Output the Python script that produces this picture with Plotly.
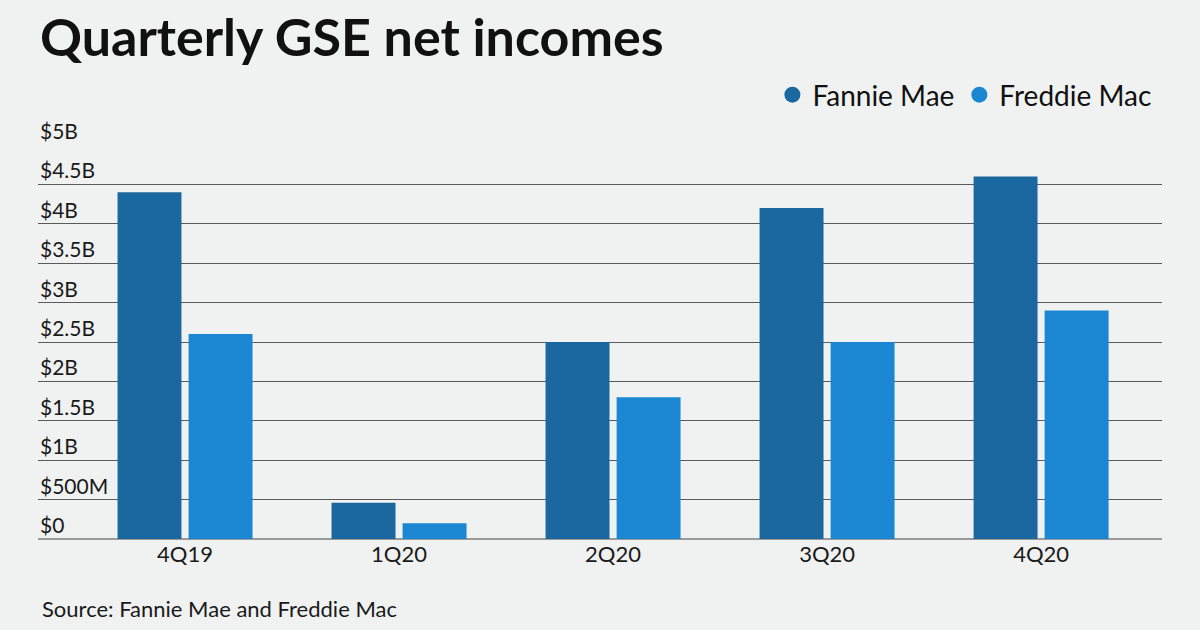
import plotly.graph_objects as go

quarters = ["4Q19", "1Q20", "2Q20", "3Q20", "4Q20"]
fannie_mae = [4.4, 0.46, 2.5, 4.2, 4.6]      # $ billions
freddie_mac = [2.6, 0.2, 1.8, 2.5, 2.9]      # $ billions
tick_vals = [0, 0.5, 1, 1.5, 2, 2.5, 3, 3.5, 4, 4.5, 5]
tick_text = ["$0", "$500M", "$1B", "$1.5B", "$2B", "$2.5B", "$3B", "$3.5B", "$4B", "$4.5B", "$5B"]

FANNIE = "#1b68a0"
FREDDIE = "#1b87d2"
BG = "#f0f1f1"
FONT = "Lato"

fig = go.Figure()
fig.add_trace(go.Bar(x=quarters, y=fannie_mae, name="Fannie Mae", marker_color=FANNIE,
                     marker_line_width=0, showlegend=False))
fig.add_trace(go.Bar(x=quarters, y=freddie_mac, name="Freddie Mac", marker_color=FREDDIE,
                     marker_line_width=0, showlegend=False))
# legend entries with circle markers
fig.add_trace(go.Scatter(x=[None], y=[None], mode="markers", name="Fannie Mae",
                         marker=dict(color=FANNIE, size=19, symbol="circle")))
fig.add_trace(go.Scatter(x=[None], y=[None], mode="markers", name="Freddie Mac",
                         marker=dict(color=FREDDIE, size=19, symbol="circle")))

annotations = []
for v, t in zip(tick_vals, tick_text):
    annotations.append(dict(x=0, xref="paper", xanchor="left", y=v, yref="y", yanchor="bottom",
                            text=t, showarrow=False, xshift=0, yshift=0,
                            font=dict(family=FONT, size=21, color="#1a1a1a")))
annotations.append(dict(x=(40 - 38) / 1124, xref="paper", xanchor="left",
                        y=(539 - 608) / 394, yref="paper", yanchor="middle",
                        text="Source: Fannie Mae and Freddie Mac", showarrow=False,
                        font=dict(family=FONT, size=22, color="#1a1a1a")))

fig.update_layout(
    width=1200, height=630,
    paper_bgcolor=BG, plot_bgcolor=BG,
    margin=dict(l=38, r=38, t=145, b=91),
    barmode="group", bargap=0.336, bargroupgap=0.1,
    title=dict(text="<b>Quarterly GSE net incomes</b>", x=40/1200, xanchor="left",
               y=1 - 38/630, yanchor="middle",
               font=dict(family=FONT, size=52, color="#111111")),
    legend=dict(orientation="h", x=0.995, xanchor="right", y=1.127, yanchor="middle",
                font=dict(family=FONT, size=28, color="#111111"), bgcolor="rgba(0,0,0,0)",
                itemsizing="trace"),
    xaxis=dict(range=[-0.687, 4.565], showgrid=False, showline=False, ticks="",
               tickfont=dict(family=FONT, size=22, color="#1a1a1a"), fixedrange=True),
    yaxis=dict(range=[0, 5], tickvals=tick_vals, showticklabels=False, showgrid=True,
               gridcolor="#5a5a5a", gridwidth=1, zeroline=True, zerolinecolor="#9a9a9a",
               zerolinewidth=2, showline=False, fixedrange=True),
    annotations=annotations,
)

fig.write_html("out.html", config={"displayModeBar": False},
               post_script="document.body.style.margin='0';")
